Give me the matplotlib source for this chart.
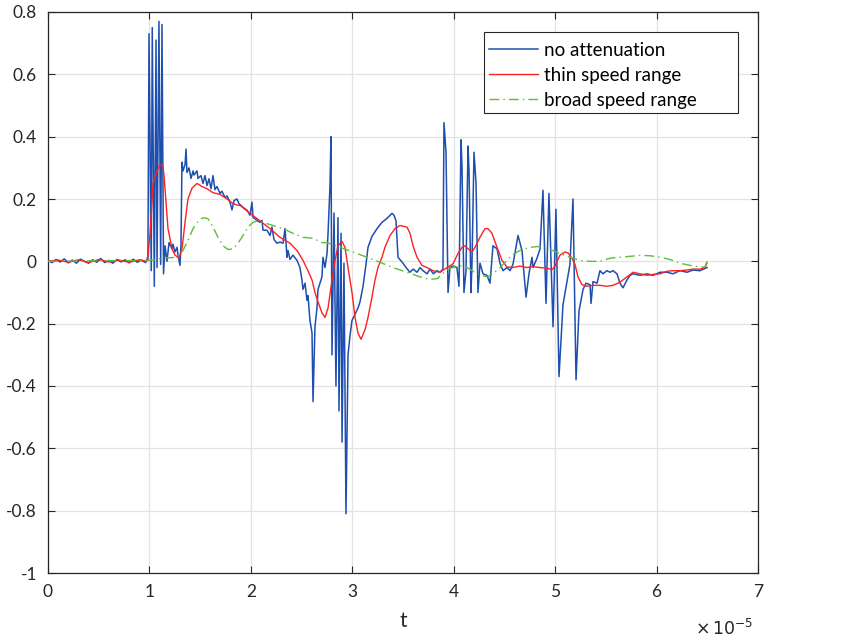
import matplotlib
matplotlib.use("Agg")
import matplotlib.pyplot as plt
from matplotlib.patches import Rectangle
from matplotlib.ticker import FixedLocator, FuncFormatter

plt.rcParams['font.family'] = ['Lato', 'DejaVu Sans']

# time axis values in units of 1e-5
t_blue = [0.00, 0.04, 0.08, 0.12, 0.16, 0.20, 0.24, 0.28, 0.32, 0.36, 0.40, 0.44, 0.48, 0.52,
          0.56, 0.60, 0.64, 0.68, 0.72, 0.76, 0.80, 0.84, 0.88, 0.92, 0.96, 0.985,
          0.996, 1.018, 1.028, 1.048, 1.065, 1.075, 1.094, 1.111, 1.124, 1.139,
          1.154, 1.173, 1.193, 1.223, 1.232, 1.252, 1.272, 1.282, 1.301, 1.311, 1.321, 1.331,
          1.351, 1.361, 1.370, 1.390, 1.410, 1.430, 1.439, 1.469, 1.479, 1.508, 1.528, 1.548,
          1.568, 1.587, 1.607, 1.627, 1.646, 1.666, 1.696, 1.715, 1.745, 1.765, 1.794, 1.814,
          1.834, 1.863, 1.883, 1.923, 1.962, 1.992, 2.011, 2.021, 2.061, 2.090, 2.110, 2.120,
          2.159, 2.189, 2.208, 2.228, 2.258, 2.287, 2.317, 2.337, 2.356, 2.366, 2.386, 2.415,
          2.455, 2.484, 2.504, 2.514, 2.534, 2.553, 2.563, 2.583, 2.603, 2.613, 2.632, 2.652,
          2.662, 2.701, 2.711, 2.731, 2.751, 2.761, 2.780, 2.790, 2.800, 2.820, 2.839, 2.859,
          2.869, 2.889, 2.899, 2.918, 2.938, 2.958, 2.977, 2.997, 3.027, 3.056, 3.076, 3.106,
          3.135, 3.155, 3.194, 3.244, 3.293, 3.342, 3.392, 3.411, 3.431, 3.451, 3.500, 3.530,
          3.569, 3.600, 3.638, 3.668, 3.697, 3.737, 3.766, 3.800, 3.835, 3.865, 3.894, 3.904,
          3.924, 3.944, 3.963, 3.993, 4.032, 4.052, 4.072, 4.082, 4.101, 4.121, 4.141, 4.151,
          4.170, 4.180, 4.200, 4.220, 4.239, 4.259, 4.289, 4.328, 4.358, 4.387, 4.427, 4.456,
          4.486, 4.525, 4.555, 4.584, 4.634, 4.673, 4.713, 4.742, 4.772, 4.782, 4.821, 4.851,
          4.880, 4.910, 4.939, 4.979, 5.008, 5.038, 5.077, 5.117, 5.146, 5.176, 5.206, 5.235,
          5.275, 5.304, 5.344, 5.354, 5.373, 5.413, 5.442, 5.472, 5.511, 5.541, 5.570, 5.610,
          5.639, 5.669, 5.708, 5.738, 5.768, 5.837, 5.906, 5.965, 6.034, 6.103, 6.162, 6.231,
          6.300, 6.359, 6.428, 6.497]
y_blue = [0.003, -0.004, 0.006, -0.002, 0.008, -0.005, 0.004, -0.006, 0.007, 0.000, -0.006, 0.005, -0.003, 0.009,
          -0.004, 0.003, -0.006, 0.006, -0.002, 0.005, -0.005, 0.007, -0.003, 0.004, -0.004, 0.006,
          0.73, -0.03, 0.75, -0.08, 0.71, -0.02, 0.77, -0.01, 0.76, -0.04,
          0.05, 0.00, 0.06, 0.04, 0.055, 0.03, 0.045, 0.02, -0.013, 0.05, 0.318, 0.29,
          0.31, 0.36, 0.285, 0.30, 0.266, 0.29, 0.277, 0.29, 0.266, 0.275, 0.25, 0.275,
          0.243, 0.265, 0.233, 0.275, 0.23, 0.24, 0.218, 0.225, 0.205, 0.21, 0.19, 0.165,
          0.195, 0.20, 0.185, 0.173, 0.164, 0.148, 0.19, 0.141, 0.131, 0.125, 0.131, 0.10,
          0.10, 0.083, 0.11, 0.07, 0.058, 0.062, 0.058, 0.105, 0.013, 0.035, 0.006, 0.02,
          0.003, -0.02, -0.06, -0.09, -0.07, -0.125, -0.11, -0.19, -0.23, -0.45, -0.21, -0.15,
          -0.09, -0.05, 0.013, -0.02, 0.025, 0.09, 0.24, 0.40, -0.30, 0.155, -0.40, 0.14,
          -0.48, 0.09, -0.58, -0.006, -0.81, -0.30, -0.24, -0.19, -0.17, -0.15, -0.13, -0.08,
          -0.01, 0.045, 0.08, 0.105, 0.125, 0.138, 0.154, 0.148, 0.13, 0.013, -0.006, -0.02,
          -0.035, -0.025, -0.035, -0.02, -0.03, -0.04, -0.025, -0.04, -0.03, -0.035, -0.025, 0.445,
          0.35, -0.10, -0.02, -0.015, -0.02, -0.08, 0.39, 0.30, -0.10, -0.03, 0.37, 0.29,
          -0.10, -0.01, 0.35, 0.25, -0.10, -0.006, -0.04, -0.045, -0.07, 0.05, 0.04, -0.006,
          -0.03, -0.02, -0.03, -0.01, 0.083, 0.035, -0.115, -0.04, 0.013, -0.02, 0.01, 0.04,
          0.228, -0.135, 0.218, -0.21, 0.167, -0.37, -0.14, -0.065, -0.01, 0.20, -0.38, -0.16,
          -0.09, -0.07, -0.075, -0.135, -0.065, -0.07, -0.03, -0.04, -0.03, -0.035, -0.03, -0.04,
          -0.07, -0.085, -0.06, -0.045, -0.04, -0.045, -0.04, -0.045, -0.035, -0.035, -0.04, -0.03,
          -0.035, -0.028, -0.03, -0.02]

t_red = [0.00, 0.10, 0.20, 0.30, 0.40, 0.50, 0.60, 0.70, 0.80, 0.90, 0.97,
         0.986, 1.006, 1.025, 1.035, 1.075, 1.104, 1.134, 1.144, 1.163, 1.183, 1.223, 1.252,
         1.292, 1.321, 1.351, 1.380, 1.420, 1.469, 1.518, 1.568, 1.627, 1.696, 1.765, 1.824,
         1.873, 1.893, 1.992, 2.090, 2.189, 2.287, 2.386, 2.455, 2.514, 2.563, 2.603, 2.632,
         2.662, 2.701, 2.731, 2.761, 2.800, 2.830, 2.859, 2.899, 2.928, 2.958, 2.997, 3.027,
         3.056, 3.086, 3.125, 3.155, 3.194, 3.224, 3.253, 3.293, 3.322, 3.372, 3.421, 3.470,
         3.539, 3.569, 3.599, 3.638, 3.687, 3.737, 3.796, 3.865, 3.934, 3.993, 4.042, 4.082,
         4.111, 4.141, 4.180, 4.210, 4.259, 4.308, 4.338, 4.377, 4.427, 4.476, 4.525, 4.584,
         4.653, 4.722, 4.782, 4.851, 4.920, 4.969, 4.999, 5.048, 5.097, 5.127, 5.166, 5.196,
         5.225, 5.265, 5.314, 5.373, 5.442, 5.511, 5.570, 5.639, 5.708, 5.768, 5.837, 5.906,
         5.965, 6.034, 6.103, 6.162, 6.231, 6.300, 6.359, 6.428, 6.477, 6.497]
y_red = [0.0, 0.004, -0.003, 0.005, -0.004, 0.006, -0.002, 0.004, -0.003, 0.005, 0.0,
         0.02, 0.09, 0.19, 0.25, 0.29, 0.31, 0.305, 0.275, 0.19, 0.105, 0.04, 0.02,
         0.01, 0.04, 0.125, 0.20, 0.235, 0.25, 0.24, 0.233, 0.22, 0.215, 0.20, 0.185,
         0.18, 0.18, 0.154, 0.13, 0.105, 0.077, 0.058, 0.035, 0.003, -0.03, -0.06, -0.10,
         -0.13, -0.165, -0.18, -0.15, -0.06, 0.003, 0.05, 0.064, 0.045, -0.02, -0.10, -0.18,
         -0.23, -0.25, -0.22, -0.18, -0.115, -0.06, -0.02, 0.013, 0.045, 0.083, 0.105, 0.115,
         0.11, 0.09, 0.05, 0.013, -0.013, -0.02, -0.03, -0.035, -0.02, -0.008, 0.025, 0.045,
         0.05, 0.04, 0.03, 0.045, 0.077, 0.105, 0.105, 0.09, 0.045, 0.003, -0.018, -0.02,
         -0.015, -0.02, -0.017, -0.02, -0.022, -0.027, -0.015, 0.02, 0.03, 0.027, 0.01, -0.01,
         -0.05, -0.075, -0.08, -0.077, -0.077, -0.08, -0.077, -0.067, -0.05, -0.035, -0.04, -0.045,
         -0.042, -0.04, -0.032, -0.03, -0.03, -0.028, -0.025, -0.025, -0.02, -0.005]

t_green = [0.0, 0.5, 1.0, 1.134, 1.272, 1.331, 1.380, 1.430, 1.479, 1.528, 1.577, 1.627,
           1.676, 1.725, 1.775, 1.824, 1.873, 1.923, 1.972, 2.021, 2.070, 2.120, 2.218, 2.317,
           2.415, 2.514, 2.613, 2.701, 2.751, 2.879, 3.007, 3.145, 3.273, 3.401, 3.539, 3.668,
           3.766, 3.845, 3.865, 3.963, 4.042, 4.131, 4.230, 4.328, 4.387, 4.456, 4.525, 4.575,
           4.653, 4.752, 4.851, 4.949, 5.048, 5.146, 5.245, 5.344, 5.442, 5.541, 5.639, 5.738,
           5.837, 5.935, 6.034, 6.132, 6.231, 6.330, 6.428, 6.477, 6.497]
y_green = [0.0, 0.002, 0.003, 0.01, 0.013, 0.035, 0.067, 0.105, 0.128, 0.14, 0.137, 0.11,
           0.077, 0.05, 0.038, 0.04, 0.058, 0.083, 0.11, 0.125, 0.13, 0.125, 0.115, 0.105,
           0.09, 0.077, 0.074, 0.06, 0.06, 0.045, 0.03, 0.013, -0.003, -0.02, -0.035, -0.05,
           -0.058, -0.055, -0.045, -0.023, -0.013, -0.02, -0.04, -0.05, -0.04, -0.02, 0.003, 0.02,
           0.035, 0.045, 0.048, 0.038, 0.025, 0.013, 0.003, 0.0, 0.0, 0.01, 0.013, 0.016,
           0.019, 0.018, 0.013, 0.006, -0.006, -0.013, -0.018, -0.018, 0.0]

labels = ['no attenuation', 'thin speed range', 'broad speed range']
x_ticks = [0, 1, 2, 3, 4, 5, 6, 7]
y_ticks = [-1, -0.8, -0.6, -0.4, -0.2, 0, 0.2, 0.4, 0.6, 0.8]

W, H = 853, 640
fig = plt.figure(figsize=(8.53, 6.4), dpi=100)
ax = fig.add_axes([48/W, 67/H, 710/W, 561/H])

ax.plot(t_blue, y_blue, color='#1f4fae', lw=1.1, label=labels[0], zorder=3)
ax.plot(t_red, y_red, color='#ff2020', lw=1.0, label=labels[1], zorder=4)
ax.plot(t_green, y_green, color='#5cbf3a', lw=1.0, ls=(0, (7, 3, 1, 3)), label=labels[2], zorder=5)

ax.set_xlim(0, 7)
ax.set_ylim(-1, 0.8)
ax.xaxis.set_major_locator(FixedLocator(x_ticks))
ax.yaxis.set_major_locator(FixedLocator(y_ticks))
ax.yaxis.set_major_formatter(FuncFormatter(lambda v, p: '0' if abs(v) < 1e-9 else f'{v:g}'.replace('\u2212', '-')))
ax.xaxis.set_major_formatter(FuncFormatter(lambda v, p: f'{v:g}'))
ax.grid(True, color='#e3e3e3', lw=0.9)
ax.set_axisbelow(True)
ax.tick_params(direction='in', top=True, right=True, length=5, width=0.8,
               colors='#262626', labelsize=12.5, pad=8)
for s in ax.spines.values():
    s.set_color('#262626')
    s.set_linewidth(0.9)

ax.set_xlabel('t', fontsize=15, color='#262626', labelpad=8)
fig.text(695/W, 1 - 628/H, r'$\times\,10^{-5}$', fontsize=12.5, color='#262626',
         va='center', ha='left')

# legend box (MATLAB style, with wide right margin)
ax.add_patch(Rectangle((484/W, 1 - 113/H), 254/W, 81/H, transform=fig.transFigure,
                       facecolor='white', edgecolor='#262626', lw=0.8, zorder=10,
                       clip_on=False))
leg = ax.legend(loc='upper left', bbox_to_anchor=(489/W, 1 - 42/H),
                bbox_transform=fig.transFigure, fontsize=13.5, frameon=False,
                handlelength=2.6, borderpad=0.0, labelspacing=0.42, handletextpad=0.35,
                borderaxespad=0.0)
leg.set_zorder(11)

fig.savefig('out.png', dpi=100)
